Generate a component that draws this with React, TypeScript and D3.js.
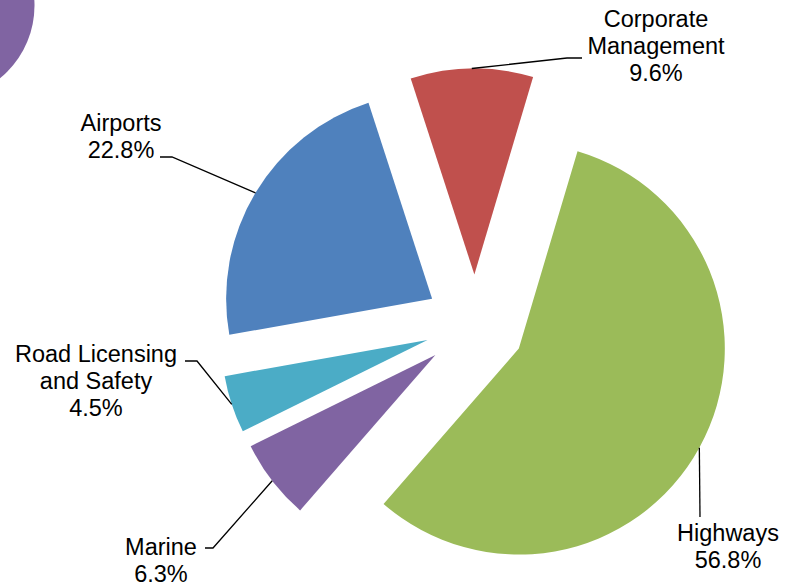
import * as d3 from 'd3'
import React from 'react'

// slice order follows the chart, clockwise from the top
const categories = ['Corporate Management', 'Highways', 'Marine', 'Road Licensing and Safety', 'Airports']
const shares = [9.6, 56.8, 6.3, 4.5, 22.8]
const labelLines = [
    ['Corporate', 'Management', '9.6%'],
    ['Highways', '56.8%'],
    ['Marine', '6.3%'],
    ['Road Licensing', 'and Safety', '4.5%'],
    ['Airports', '22.8%'],
]
const colors = ['#C0504D', '#9BBB59', '#8064A2', '#4BACC6', '#4F81BD']

const width = 799
const height = 588
const center = { x: 475, y: 324.5 }
const radius = 206
const explode = 50
const fontSize = 23.5
const lineHeight = 27

// label placement: text block centre, and the leader's elbow / end
const labelLayout = [
    { x: 656, y: 19, elbow: [567, 58], end: [582, 58] },
    { x: 728, y: 533, elbow: [700, 517], end: [700, 517] },
    { x: 161, y: 547, elbow: [213, 548], end: [205, 548] },
    { x: 96, y: 354, elbow: [197, 361], end: [185, 361] },
    { x: 121, y: 123, elbow: [172, 157], end: [160, 157] },
]

// stray purple disc poking in at the top-left corner
const cornerDisc = { cx: -59.5, cy: 5.6, r: 94 }

export default function App() {
    const pie = d3
        .pie<number>()
        .sort(null)
        .startAngle((-18 * Math.PI) / 180)
        .endAngle((342 * Math.PI) / 180)
    const arcs = pie(shares)
    const arcGen = d3.arc<d3.PieArcDatum<number>>().innerRadius(0).outerRadius(radius)

    return (
        <svg
            width={width}
            height={height}
            style={{ position: 'absolute', left: 0, top: 0, background: '#fff' }}
            fontFamily="'Liberation Sans', Arial, sans-serif"
        >
            <circle cx={cornerDisc.cx} cy={cornerDisc.cy} r={cornerDisc.r} fill="#8064A2" />
            {arcs.map((a, i) => {
                const mid = (a.startAngle + a.endAngle) / 2
                const ox = center.x + Math.sin(mid) * explode
                const oy = center.y - Math.cos(mid) * explode
                const sx = ox + Math.sin(mid) * radius
                const sy = oy - Math.cos(mid) * radius
                const lay = labelLayout[i]
                const lines = labelLines[i]
                return (
                    <g key={categories[i]}>
                        <path d={arcGen(a) || ''} fill={colors[i]} transform={`translate(${ox},${oy})`} />
                        <polyline
                            points={`${sx},${sy} ${lay.elbow[0]},${lay.elbow[1]} ${lay.end[0]},${lay.end[1]}`}
                            fill="none"
                            stroke="#000"
                            strokeWidth={1.3}
                        />
                        <text fontSize={fontSize} textAnchor="middle" fill="#000">
                            {lines.map((t, j) => (
                                <tspan key={j} x={lay.x} y={lay.y + j * lineHeight} dy="0.35em">
                                    {t}
                                </tspan>
                            ))}
                        </text>
                    </g>
                )
            })}
        </svg>
    )
}
